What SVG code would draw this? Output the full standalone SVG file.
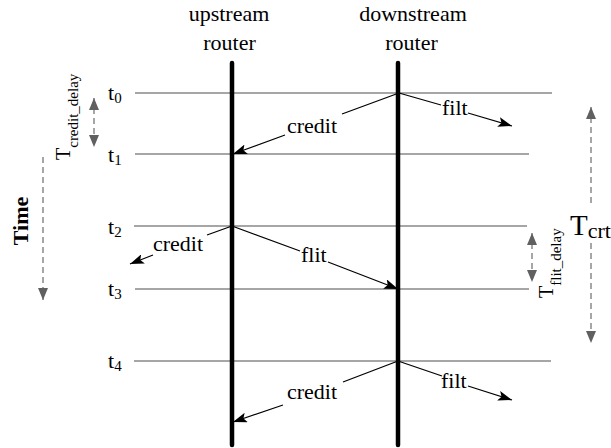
<svg xmlns="http://www.w3.org/2000/svg" width="611" height="448" viewBox="0 0 611 448" font-family="'Liberation Serif', 'DejaVu Serif', serif">
<defs>
<style>
text{font-family:'Liberation Serif','DejaVu Serif',serif;fill:#000}
.lbl{font-size:22px}
.hl{stroke:#888;stroke-width:1.3;fill:none}
.rt{stroke:#000;stroke-width:4.5;stroke-linecap:round;fill:none}
.ar{stroke:#000;stroke-width:1.3;fill:none;marker-end:url(#ah)}
.gd{stroke:#777;stroke-width:1.3;fill:none;stroke-dasharray:6 4}
.dbl{marker-start:url(#gh);marker-end:url(#gh)}
</style>
<marker id="ah" viewBox="0 0 14 10" refX="14" refY="5" markerWidth="14" markerHeight="10" markerUnits="userSpaceOnUse" orient="auto"><path d="M0,0 L14,5 L0,10 L3,5 z" fill="#000"/></marker>
<marker id="gh" viewBox="0 0 12 10" refX="12" refY="5" markerWidth="12" markerHeight="10" markerUnits="userSpaceOnUse" orient="auto-start-reverse"><path d="M0,0 L12,5 L0,10 z" fill="#606060"/></marker>
</defs>
<rect width="611" height="448" fill="#fff"/>

<g id="time-lines">
<line class="hl" x1="135" y1="93" x2="552" y2="93"/>
<line class="hl" x1="135" y1="154" x2="529" y2="154"/>
<line class="hl" x1="134" y1="226" x2="527" y2="226"/>
<line class="hl" x1="135" y1="289" x2="529" y2="289"/>
<line class="hl" x1="134" y1="361" x2="551" y2="361"/>
</g>

<g id="upstream">
<text class="lbl" x="229" y="21" text-anchor="middle">upstream</text>
<text class="lbl" x="229.5" y="50" text-anchor="middle">router</text>
<line class="rt" x1="232" y1="63" x2="232" y2="445"/>
</g>
<g id="downstream">
<text class="lbl" x="413" y="21" text-anchor="middle">downstream</text>
<text class="lbl" x="411.5" y="50" text-anchor="middle">router</text>
<line class="rt" x1="398" y1="63" x2="398" y2="445"/>
</g>

<g id="t-labels" class="lbl">
<text x="108" y="100">t<tspan font-size="15" dy="3">0</tspan></text>
<text x="108" y="162">t<tspan font-size="15" dy="3">1</tspan></text>
<text x="108" y="234">t<tspan font-size="15" dy="3">2</tspan></text>
<text x="108" y="296">t<tspan font-size="15" dy="3">3</tspan></text>
<text x="108" y="368">t<tspan font-size="15" dy="3">4</tspan></text>
</g>

<g id="connectors">
<path class="ar" d="M399,93 L342,114 M285,135 L233,154"/>
<path class="ar" d="M399,93 L441,105 M468,113 L512,126"/>
<path class="ar" d="M232,226 L207,235 M153,255 L130,264"/>
<path class="ar" d="M232,226 L300,251 M328,262 L398,289"/>
<path class="ar" d="M398,361 L343,382 M283,405 L233,422"/>
<path class="ar" d="M398,361 L442,376 M468,386 L512,400"/>
</g>

<g id="message-labels" class="lbl">
<text x="287" y="133">credit</text>
<text x="442" y="115">filt</text>
<text x="153" y="251">credit</text>
<text x="301" y="262">flit</text>
<text x="287" y="399">credit</text>
<text x="441" y="388">filt</text>
</g>

<g id="time-axis">
<line class="gd" x1="43" y1="157" x2="43" y2="300" style="marker-end:url(#gh)"/>
<text transform="translate(28,221) rotate(-90)" text-anchor="middle" font-size="22" font-weight="bold">Time</text>
</g>

<g id="t-credit-delay">
<line class="gd dbl" x1="94" y1="98" x2="94" y2="147"/>
<text transform="translate(70,160) rotate(-90)" font-size="20">T<tspan font-size="15" dy="8">credit_delay</tspan></text>
</g>

<g id="t-flit-delay">
<line class="gd dbl" x1="532" y1="233" x2="532" y2="282"/>
<text transform="translate(553,298) rotate(-90)" font-size="20">T<tspan font-size="15" dy="8">flit_delay</tspan></text>
</g>

<g id="t-crt">
<path class="gd dbl" d="M591,107 L591,205 M591,243 L591,343"/>
<text x="570" y="235" font-size="29">T<tspan font-size="22" dy="3">crt</tspan></text>
</g>
</svg>
